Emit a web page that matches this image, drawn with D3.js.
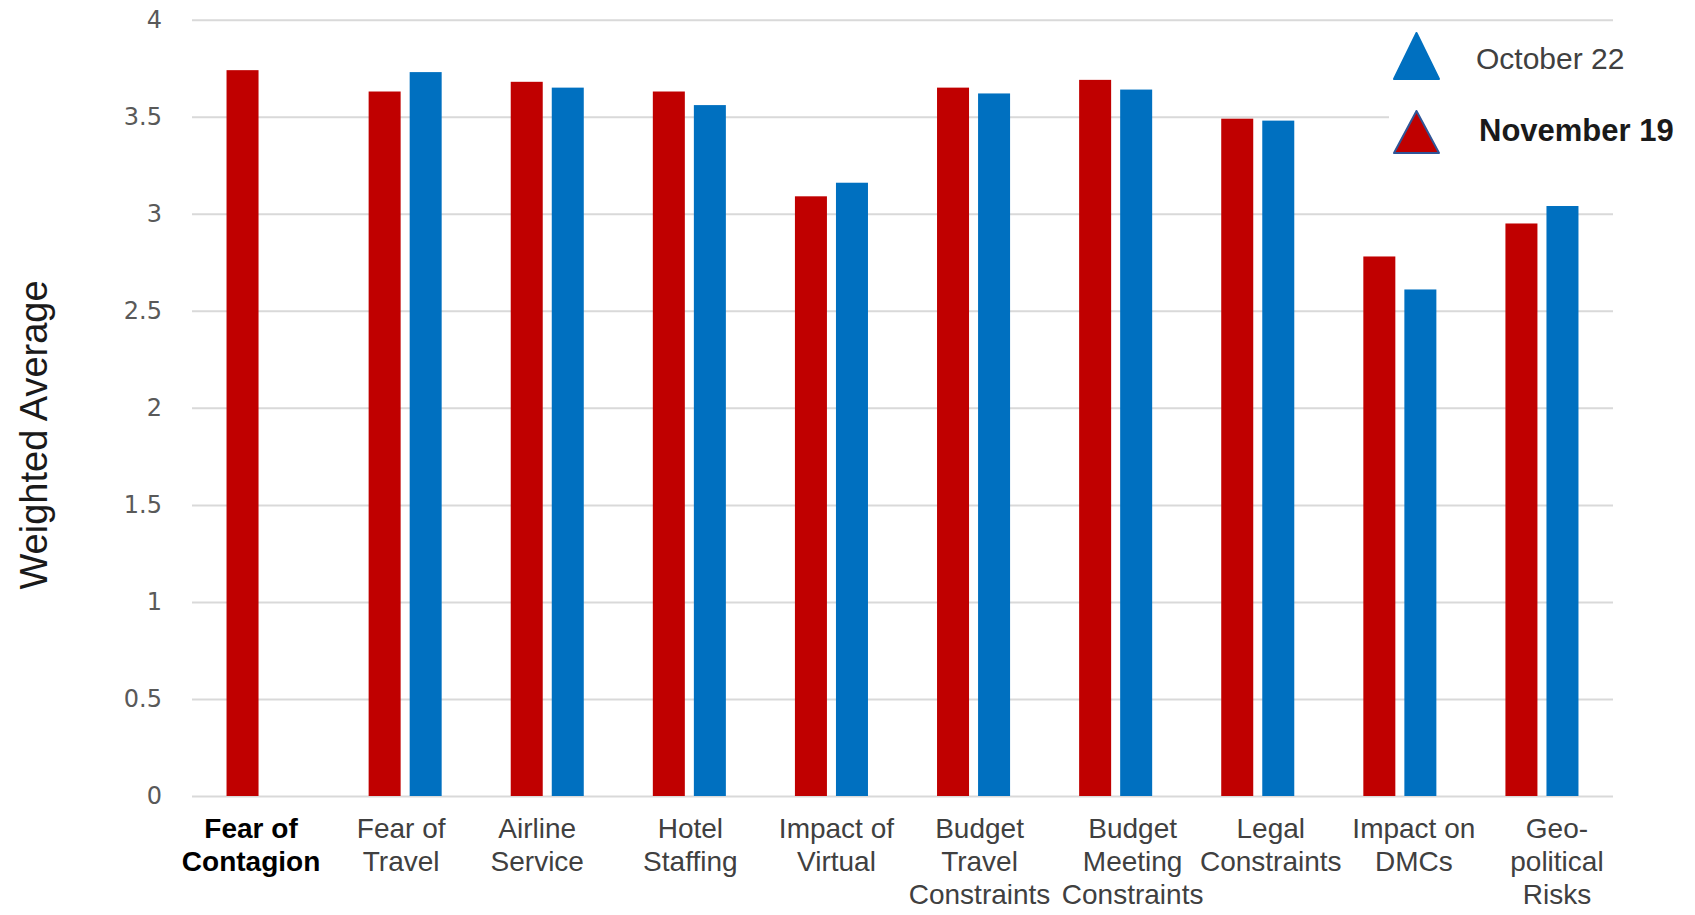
<!DOCTYPE html>
<html>
<head>
<meta charset="utf-8">
<script src="https://cdn.jsdelivr.net/npm/d3@7"></script>
<style>
    body { margin: 0; background: #ffffff; }
</style>
</head>
<body>
<script>
// chart data
var categories = ["Fear of\nContagion", "Fear of\nTravel", "Airline\nService", "Hotel\nStaffing",
                  "Impact of\nVirtual", "Budget\nTravel\nConstraints", "Budget\nMeeting\nConstraints",
                  "Legal\nConstraints", "Impact on\nDMCs", "Geo-\npolitical\nRisks"];
var seriesNames = ["November 19", "October 22"];
var november19 = [3.74, 3.63, 3.68, 3.63, 3.09, 3.65, 3.69, 3.49, 2.78, 2.95];
var october22 = [null, 3.73, 3.65, 3.56, 3.16, 3.62, 3.64, 3.48, 2.61, 3.04];
var tickValues = [0, 0.5, 1, 1.5, 2, 2.5, 3, 3.5, 4];
var tickLabels = ["0", "0.5", "1", "1.5", "2", "2.5", "3", "3.5", "4"];

function init(){

        var w = 1695;
        var h = 915;
        var left = 192, right = 1613, top = 19.7, bottom = 796;
        var colors = {"November 19": "#C00000", "October 22": "#0070C0"};
        // labels in the picture sit a little off the band centre
        var labelNudge = [-12, -4, -10, 1, 5, 6, 17, 13, 14, 15];

        var svg = d3.select("body")
                    .append("svg")
                    .attr("width", w)
                    .attr("height", h);

        var xScale = d3.scaleBand()
                        .domain(categories)
                        .range([left, right])
                        .paddingInner(0.486)
                        .paddingOuter(0.243);

        var xSub = d3.scaleBand()
                        .domain(seriesNames)
                        .range([0, xScale.bandwidth()])
                        .paddingInner(0.22);

        var yScale = d3.scaleLinear()
                        .domain([0, 4])
                        .range([bottom, top]);

        // gridlines
        var grid = svg.append("g")
            .attr("transform", "translate(" + left + ",0)")
            .call(d3.axisLeft(yScale)
                .tickValues(tickValues)
                .tickSize(-(right - left))
                .tickFormat(""));
        grid.select(".domain").remove();
        grid.selectAll("line")
            .attr("stroke", "#d9d9d9")
            .attr("stroke-width", 2);

        // y tick labels
        var yAxis = svg.append("g")
            .attr("transform", "translate(" + left + ",0)")
            .call(d3.axisLeft(yScale)
                .tickValues(tickValues)
                .tickSize(0)
                .tickPadding(30)
                .tickFormat(function(d, i){ return tickLabels[i]; }));
        yAxis.select(".domain").remove();
        yAxis.selectAll("text")
            .attr("font-family", "DejaVu Sans")
            .attr("font-size", 24)
            .attr("fill", "#595959");

        // legend background covers the gridlines
        svg.append("rect")
            .attr("x", 1389)
            .attr("y", 26)
            .attr("width", w - 1389)
            .attr("height", 172)
            .attr("fill", "#ffffff");

        // bars
        var rows = categories.map(function(c, i){
            return {cat: c, values: [
                {name: "November 19", v: november19[i]},
                {name: "October 22", v: october22[i]}
            ]};
        });

        svg.selectAll("g.cat")
            .data(rows)
            .enter()
            .append("g")
            .attr("class", "cat")
            .attr("transform", function(d){ return "translate(" + xScale(d.cat) + ",0)"; })
            .selectAll("rect")
            .data(function(d){ return d.values.filter(function(e){ return e.v != null; }); })
            .enter()
            .append("rect")
            .attr("x", function(d){ return xSub(d.name); })
            .attr("y", function(d){ return yScale(d.v); })
            .attr("width", xSub.bandwidth())
            .attr("height", function(d){ return yScale(0) - yScale(d.v); })
            .attr("fill", function(d){ return colors[d.name]; });

        // category labels
        var labels = svg.selectAll("text.cat")
            .data(categories)
            .enter()
            .append("text")
            .attr("class", "cat")
            .attr("text-anchor", "middle")
            .attr("font-family", "Liberation Sans")
            .attr("font-size", 28)
            .attr("font-weight", function(d, i){ return i === 0 ? "bold" : "normal"; })
            .attr("fill", function(d, i){ return i === 0 ? "#000000" : "#404040"; })
            .attr("x", function(d, i){ return xScale(d) + xScale.bandwidth() / 2 + labelNudge[i]; });

        labels.selectAll("tspan")
            .data(function(d){ return d.split("\n"); })
            .enter()
            .append("tspan")
            .attr("x", function(){ return this.parentNode.getAttribute("x"); })
            .attr("y", function(d, i){ return bottom + 42 + i * 33; })
            .text(function(d){ return d; });

        // y axis title
        svg.append("text")
            .attr("text-anchor", "middle")
            .attr("transform", "translate(47,435) rotate(-90)")
            .attr("font-family", "Liberation Sans")
            .attr("font-size", 38)
            .attr("fill", "#1a1a1a")
            .text("Weighted Average");

        // legend
        var legendItems = [
            {name: "October 22", fill: "#0070C0", stroke: "#0070C0", y: 79, ty: 69, tx: 1476, weight: "normal", color: "#404040"},
            {name: "November 19", fill: "#C00000", stroke: "#2F5597", y: 153, ty: 141, tx: 1479, weight: "bold", color: "#1a1a1a"}
        ];

        legendItems.forEach(function(item){
            var tH = item.name === "October 22" ? 46 : 42;
            svg.append("path")
                .attr("d", "M1394," + item.y + " L1439," + item.y + " L1416.5," + (item.y - tH) + " Z")
                .attr("fill", item.fill)
                .attr("stroke", item.stroke)
                .attr("stroke-width", 2)
                .attr("stroke-linejoin", "round");

            svg.append("text")
                .attr("x", item.tx)
                .attr("y", item.ty)
                .attr("font-family", "Liberation Sans")
                .attr("font-size", item.weight === "bold" ? 31 : 30)
                .attr("font-weight", item.weight)
                .attr("fill", item.color)
                .text(item.name);
        });

}
window.onload = init;
</script>
</body>
</html>
